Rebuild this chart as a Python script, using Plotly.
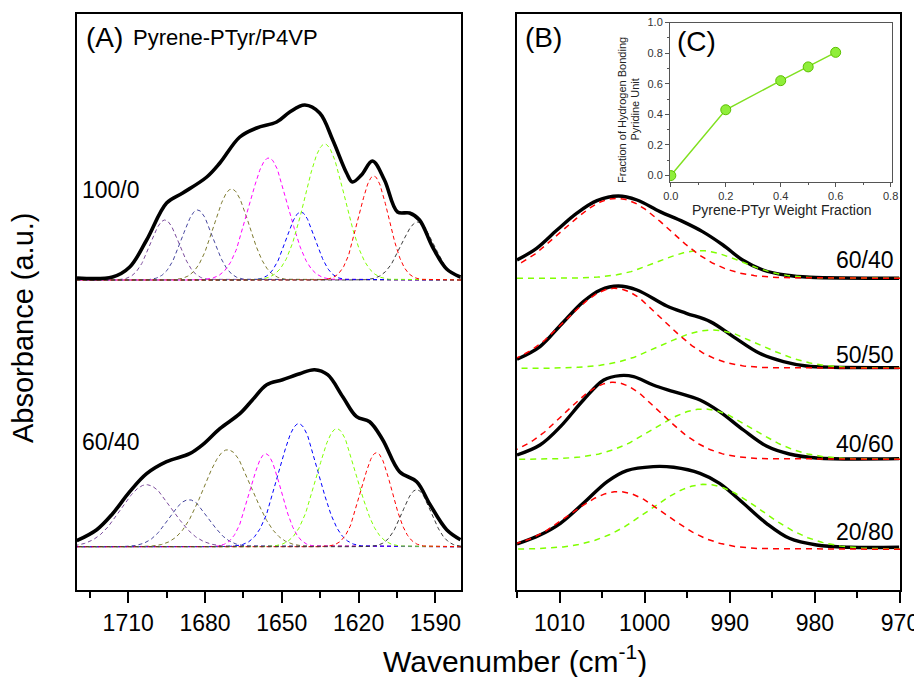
import numpy as np
import plotly.graph_objects as go

# ---------------- panel A : 1580-1730 cm-1 ----------------
wn_a_top = [1730.0, 1716.1, 1709.4, 1702.8, 1695.0, 1688.7, 1679.3, 1674.2, 1666.4, 1659.8,
            1652.0, 1646.9, 1641.0, 1635.2, 1630.1, 1624.7, 1622.4, 1618.9, 1614.6, 1609.9,
            1604.8, 1600.1, 1596.2, 1591.1, 1585.6, 1580.2]
abs_a_top = [0.02, 0.03, 0.13, 0.40, 0.77, 0.87, 1.03, 1.17, 1.43, 1.52,
             1.58, 1.68, 1.75, 1.67, 1.40, 1.07, 0.98, 1.05, 1.19, 1.00,
             0.68, 0.67, 0.60, 0.33, 0.11, 0.03]

wn_a_bot = [1730.1, 1722.3, 1716.1, 1709.4, 1702.8, 1695.0, 1686.0, 1680.9, 1674.2, 1666.4,
            1661.4, 1655.9, 1649.7, 1643.0, 1637.2, 1632.1, 1626.2, 1620.8, 1615.7, 1610.6,
            1604.0, 1597.3, 1592.3, 1585.6, 1580.2]
abs_a_bot = [0.06, 0.17, 0.33, 0.55, 0.73, 0.85, 0.93, 1.02, 1.18, 1.33,
             1.47, 1.62, 1.67, 1.73, 1.77, 1.72, 1.50, 1.30, 1.25, 1.07,
             0.75, 0.65, 0.43, 0.17, 0.07]

# fitted gaussian bands (centre, height, sigma)
band_colors = ["#7b4a9c", "#45459e", "#7d7a2e", "#ff00ff", "#0000ff", "#80ff00", "#ff0000", "#3a3a3a"]
cen_a_top = [1695.7, 1682.9, 1669.6, 1655.1, 1642.6, 1633.2, 1614.1, 1596.9]
hgt_a_top = [0.60, 0.70, 0.91, 1.22, 0.68, 1.36, 1.04, 0.58]
sig_a_top = [5.6, 6.0, 6.8, 7.6, 5.6, 7.8, 5.8, 6.4]
cen_a_bot = [1702.8, 1686.3, 1671.1, 1656.3, 1643.4, 1628.5, 1613.0, 1597.3]
hgt_a_bot = [0.62, 0.47, 0.97, 0.93, 1.23, 1.18, 0.94, 0.57]
sig_a_bot = [10.0, 7.7, 9.4, 6.0, 7.7, 7.7, 5.9, 5.6]

off_a = [3.10, 0.433]
labels_a = ["100/0", "60/40"]

# ---------------- panel B : 970-1015 cm-1 ----------------
wn_b1 = [1015.0, 1012.7, 1010.3, 1008.0, 1005.6, 1003.1, 1000.9, 998.2, 995.5, 993.2,
         990.8, 988.5, 986.1, 983.3, 980.6, 970.1]
abs_b1 = [0.183, 0.30, 0.483, 0.65, 0.777, 0.823, 0.783, 0.667, 0.567, 0.467,
          0.333, 0.183, 0.083, 0.03, 0.01, 0.0]
wn_b2 = [1015.0, 1012.3, 1009.9, 1007.2, 1005.2, 1003.1, 1000.9, 997.4, 995.1, 992.3,
         989.6, 986.5, 983.7, 981.0, 977.9, 970.1]
abs_b2 = [0.09, 0.217, 0.43, 0.667, 0.783, 0.823, 0.783, 0.623, 0.55, 0.467,
          0.317, 0.15, 0.067, 0.023, 0.01, 0.007]
wn_b3 = [1015.0, 1012.3, 1009.9, 1007.2, 1004.8, 1002.9, 1001.3, 999.0, 996.6, 993.5,
         991.2, 988.4, 985.7, 983.0, 979.8, 970.1]
abs_b3 = [0.043, 0.143, 0.327, 0.593, 0.793, 0.837, 0.827, 0.743, 0.677, 0.593,
          0.477, 0.293, 0.133, 0.053, 0.013, 0.007]
wn_b4 = [1015.0, 1012.3, 1009.9, 1007.2, 1004.4, 1002.1, 999.0, 996.6, 993.5, 991.2,
         988.4, 985.7, 983.0, 979.8, 975.9, 970.1]
abs_b4 = [0.053, 0.143, 0.26, 0.46, 0.677, 0.787, 0.827, 0.82, 0.76, 0.66,
          0.46, 0.26, 0.11, 0.043, 0.02, 0.02]

wn_b = [wn_b1, wn_b2, wn_b3, wn_b4]
abs_b = [abs_b1, abs_b2, abs_b3, abs_b4]
off_b = [3.117, 2.217, 1.307, 0.407]
labels_b = ["60/40", "50/50", "40/60", "20/80"]

# free (red) and H-bonded (green) pyridine bands
cen_free = [1003.3, 1003.5, 1003.7, 1003.1]
hgt_free = [0.80, 0.80, 0.77, 0.577]
sig_free = [6.2, 5.7, 5.6, 5.6]
cen_hb = [993.5, 992.1, 993.1, 992.9]
hgt_hb = [0.277, 0.383, 0.503, 0.65]
sig_hb = [4.8, 5.8, 5.8, 6.5]

# ---------------- inset C ----------------
wt_frac = [0.0, 0.2, 0.4, 0.5, 0.6]
hb_frac = [0.0, 0.43, 0.62, 0.71, 0.805]


def gauss(x, c, h, s):
    return h * np.exp(-0.5 * ((x - c) / s) ** 2)


fig = go.Figure()

grid_a = np.linspace(1580, 1730, 600)
for off, cens, hgts, sigs, wn, ab in [(off_a[0], cen_a_top, hgt_a_top, sig_a_top, wn_a_top, abs_a_top),
                                       (off_a[1], cen_a_bot, hgt_a_bot, sig_a_bot, wn_a_bot, abs_a_bot)]:
    for c, h, s, col in zip(cens, hgts, sigs, band_colors):
        fig.add_trace(go.Scatter(x=grid_a, y=gauss(grid_a, c, h, s) + off, mode="lines",
                                 line=dict(color=col, width=1, dash="4px,3px"),
                                 xaxis="x", yaxis="y", hoverinfo="skip"))
    fig.add_trace(go.Scatter(x=wn, y=np.array(ab) + off, mode="lines",
                             line=dict(color="black", width=3.6, shape="spline", smoothing=1.0),
                             xaxis="x", yaxis="y"))

grid_b = np.linspace(970, 1015, 300)
for i in range(4):
    off = off_b[i]
    fig.add_trace(go.Scatter(x=wn_b[i], y=np.array(abs_b[i]) + off, mode="lines",
                             line=dict(color="black", width=3.4, shape="spline", smoothing=1.0),
                             xaxis="x2", yaxis="y2"))
    fig.add_trace(go.Scatter(x=grid_b, y=gauss(grid_b, cen_hb[i], hgt_hb[i], sig_hb[i]) + off, mode="lines",
                             line=dict(color="#80ff00", width=1.5, dash="6px,5px"),
                             xaxis="x2", yaxis="y2", hoverinfo="skip"))
    fig.add_trace(go.Scatter(x=grid_b, y=gauss(grid_b, cen_free[i], hgt_free[i], sig_free[i]) + off, mode="lines",
                             line=dict(color="#ff0000", width=1.5, dash="6px,5px"),
                             xaxis="x2", yaxis="y2", hoverinfo="skip"))

fig.add_trace(go.Scatter(x=wt_frac, y=hb_frac, mode="lines+markers",
                         line=dict(color="#80e020", width=1.5),
                         marker=dict(size=10, color="#8fee3a", line=dict(color="#5cc000", width=1)),
                         xaxis="x3", yaxis="y3"))

# the page puts the figure 8px in from the top-left corner;
# wanted plot area on the page: x 77..900, y 14..590
PAGE = 8
X0, X1, Y0, Y1 = 77, 900, 14, 590
W, H = 922 - PAGE, 677 - PAGE
L, T = X0 - PAGE, Y0 - PAGE
R, B = W - (X1 - PAGE), H - (Y1 - PAGE)
PW, PH = X1 - X0, Y1 - Y0


def px(x, y):
    return (x - X0) / PW, (Y1 - y) / PH


def yd(y):
    # page pixel row -> data value of the main panels
    return (Y1 - y) / 100


tick_font = dict(family="Liberation Sans, Arial", size=23, color="black")
frame = dict(showline=True, linecolor="black", linewidth=2, mirror=True, showgrid=False,
             zeroline=False, automargin=False)

ia0, _ = px(670, 0)
ia1, _ = px(891.7, 0)
_, ib0 = px(0, 181.7)
_, ib1 = px(0, 22.5)

inset_font = dict(family="Liberation Sans, Arial", size=11, color="#333")

fig.update_layout(
    width=W, height=H,
    margin=dict(l=L, r=R, t=T, b=B),
    paper_bgcolor="white", plot_bgcolor="white",
    showlegend=False,
    font=dict(family="Liberation Sans, Arial", color="black"),
    xaxis=dict(domain=[0, px(461, 0)[0]], range=[1730, 1580], anchor="y",
               ticks="outside", ticklen=11, tickwidth=1.5, tickcolor="black",
               tick0=1590, dtick=30, tickfont=tick_font,
               minor=dict(ticks="outside", ticklen=6, tickwidth=1.5, dtick=15, tick0=1590, tickcolor="black"),
               **frame),
    yaxis=dict(domain=[0, 1], range=[0, PH / 100], anchor="x", showticklabels=False, ticks="", **frame),
    xaxis2=dict(domain=[px(517, 0)[0], 1], range=[1015, 970], anchor="y2",
                ticks="outside", ticklen=11, tickwidth=1.5, tickcolor="black",
                tick0=970, dtick=10, tickfont=tick_font,
                minor=dict(ticks="outside", ticklen=6, tickwidth=1.5, dtick=5, tick0=970, tickcolor="black"),
                **frame),
    yaxis2=dict(domain=[0, 1], range=[0, PH / 100], anchor="x2", showticklabels=False, ticks="", **frame),
    xaxis3=dict(domain=[ia0, ia1], range=[-0.003, 0.804], anchor="y3", automargin=False,
                showline=True, linecolor="#555", linewidth=1, mirror=True, showgrid=False, zeroline=False,
                ticks="outside", ticklen=4, tickwidth=1, tickcolor="#555", tickvals=[0, 0.2, 0.4, 0.6, 0.8],
                ticktext=["0.0", "0.2", "0.4", "0.6", "0.8"], tickfont=inset_font,
                minor=dict(ticks="outside", ticklen=2, dtick=0.1, tick0=0, tickcolor="#555")),
    yaxis3=dict(domain=[ib0, ib1], range=[-0.04, 1.0], anchor="x3", automargin=False,
                showline=True, linecolor="#555", linewidth=1, mirror=True, showgrid=False, zeroline=False,
                ticks="outside", ticklen=4, tickwidth=1, tickcolor="#555",
                tickvals=[0, 0.2, 0.4, 0.6, 0.8, 1.0], ticktext=["0.0", "0.2", "0.4", "0.6", "0.8", "1.0"],
                tickfont=inset_font,
                minor=dict(ticks="outside", ticklen=2, dtick=0.1, tick0=0, tickcolor="#555")),
)


def note(text, x, y, size, xref="paper", yref="paper", xanchor="center", angle=0, color="black"):
    return dict(x=x, y=y, xref=xref, yref=yref, text=text, showarrow=False, textangle=angle,
                xanchor=xanchor, yanchor="middle", font=dict(size=size, color=color))


ann = [
    note("(A)", 1727.4, yd(37.5), 28, "x", "y", "left"),
    note("Pyrene-PTyr/P4VP", 1708.8, yd(37.5), 22, "x", "y", "left"),
    note("(B)", 1014.3, yd(37.5), 28, "x2", "y2", "left"),
    note("(C)", 0.0156, 0.877, 28, "x3", "y3", "left"),
]
for lab, yy in zip(labels_a, [190, 442]):
    ann.append(note(lab, 1729.0, yd(yy), 23, "x", "y", "left"))
for lab, yy in zip(labels_b, [259.5, 355, 444, 532]):
    ann.append(note(lab, 970.5, yd(yy), 23, "x2", "y2", "right"))

ann.append(note("Pyrene-PTyr Weight Fraction", *px(781, 210), 14, color="#222"))
ann.append(note("Fraction of Hydrogen Bonding", *px(622, 110), 11, angle=-90, color="#222"))
ann.append(note("Pyridine Unit", *px(634.5, 110), 11, angle=-90, color="#222"))
ann.append(note("Absorbance (a.u.)", *px(23, 328), 29, angle=-90))
ann.append(note("Wavenumber (cm<sup>-1</sup>)", *px(515, 659), 30))
fig.update_layout(annotations=ann)

fig.write_html("out.html")
